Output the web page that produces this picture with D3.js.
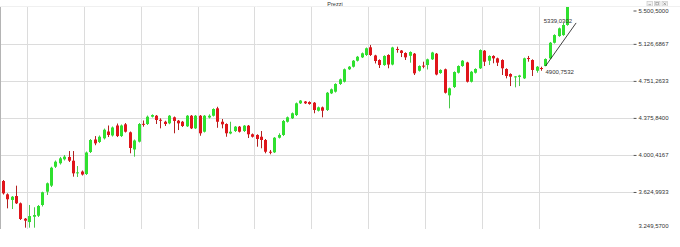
<!DOCTYPE html>
<html>
<head>
<meta charset="utf-8">
<script src="https://cdnjs.cloudflare.com/ajax/libs/d3/7.8.5/d3.min.js"></script>
<style>
  html, body { margin: 0; padding: 0; background: #fff; }
  svg { display: block; font-family: "Liberation Sans", Arial, sans-serif; }
</style>
</head>
<body>
<div id="chart"></div>
<script>
// weekly candles, oldest first
const OPEN = [
  3736,3601,3544,3584,3510,3354,3320,3374,3384,3493,
  3628,3689,3881,3916,3956,3980,3942,3814,3832,3807,
  4030,4157,4132,4169,4238,4198,4299,4192,4311,4230,
  4056,4135,4316,4314,4388,4398,4357,4337,4321,4382,
  4348,4337,4291,4398,4270,4398,4236,4380,4398,4473,
  4337,4314,4218,4243,4287,4243,4297,4210,4203,4185,
  4152,4033,4027,4175,4203,4337,4372,4405,4524,4542,
  4537,4530,4449,4483,4456,4625,4642,4720,4743,4869,
  4895,4956,4990,5014,5092,5009,4963,4912,5014,4917,
  5075,5059,5034,5006,5027,4854,4906,4912,4970,5027,
  4831,4869,4605,4689,4834,4902,4938,4743,4834,4879,
  5057,4956,5004,4980,4963,4872,4821,4791,4791,4777,
  4983,4963,4854,4882,4902,4980,5138,5206,5216,5318
];
const HIGH = [
  3746,3611,3584,3689,3518,3361,3493,3470,3493,3628,
  3721,3881,3944,3980,4000,4040,4040,3888,3843,4035,
  4162,4192,4198,4268,4299,4289,4319,4309,4324,4238,
  4157,4324,4350,4400,4412,4405,4372,4347,4405,4390,
  4355,4345,4405,4405,4405,4405,4405,4412,4473,4489,
  4365,4321,4337,4294,4294,4304,4304,4218,4210,4243,
  4162,4051,4182,4220,4355,4390,4431,4532,4557,4547,
  4544,4537,4491,4491,4639,4674,4727,4775,4877,4902,
  4963,5004,5039,5090,5115,5016,4970,5011,5021,5097,
  5098,5064,5041,5051,5034,4909,4946,4977,5046,5034,
  4869,4876,4683,4848,4909,4963,4945,4852,4879,5071,
  5064,5011,5011,4987,4970,4879,4828,4801,4813,4987,
  5004,4970,4902,4895,4980,5146,5224,5292,5339.0302,5545
];
const LOW = [
  3599,3459,3452,3503,3341,3263,3263,3263,3371,3478,
  3594,3675,3868,3903,3944,3929,3780,3777,3792,3797,
  4020,4099,4121,4157,4182,4187,4182,4182,4228,4017,
  3983,4127,4287,4304,4380,4314,4270,4294,4312,4220,
  4253,4284,4284,4263,4263,4195,4228,4370,4390,4276,
  4270,4185,4210,4233,4228,4233,4172,4177,4084,4068,
  4017,4007,4020,4167,4192,4329,4365,4395,4517,4517,
  4510,4423,4441,4382,4446,4618,4633,4710,4735,4862,
  4887,4948,4983,5004,5004,4928,4882,4904,4879,4909,
  5037,4993,4963,4936,4811,4846,4879,4867,4963,4808,
  4823,4623,4473,4679,4826,4894,4735,4735,4826,4872,
  4902,4912,4930,4902,4811,4777,4699,4686,4699,4770,
  4946,4801,4834,4854,4900.7532,4973,5130,5198,5208,5310
];
const CLOSE = [
  3611,3551,3577,3510,3351,3334,3381,3391,3483,3622,
  3713,3871,3932,3966,3983,3942,3814,3824,3802,4025,
  4152,4118,4185,4256,4203,4279,4192,4299,4236,4071,
  4147,4314,4310,4388,4405,4355,4351,4314,4398,4345,
  4321,4294,4398,4270,4398,4220,4398,4398,4466,4337,
  4311,4220,4236,4287,4236,4297,4210,4185,4162,4152,
  4033,4027,4175,4203,4345,4382,4423,4524,4552,4524,
  4517,4456,4483,4449,4631,4666,4720,4767,4869,4895,
  4956,4996,5031,5082,5014,4953,4912,5004,4917,5090,
  5068,5034,4990,5044,4828,4902,4900,4970,5039,4816,
  4862,4631,4676,4841,4902,4956,4743,4844,4872,5064,
  4946,5004,4980,4936,4879,4801,4794,4797,4806,4980,
  4977,4862,4895,4876,4973,5138,5216,5284,5318,5530
];

const Y_TICKS = [3249.57, 3624.9933, 4000.4167, 4375.84, 4751.2633, 5126.6867, 5500.5];
const QUARTER_STARTS = [6, 19, 32, 45, 58, 71, 84, 97, 110, 123];   // candle index where a new period starts
const TREND_IDX = [124, 131];
const TREND_VAL = [4900.7532, 5339.0302];
const TITLE = 'Prezzi';

(function () {
  const W = 680, H = 247;
  const P = { left: 0.7, right: 633, top: 7, bottom: 229 };
  const SLOTS = 144;   // 130 candles + empty space on the right

  const it = d3.formatLocale({ decimal: ',', thousands: '.', grouping: [3], currency: ['', ''] });
  const fmtAxis = it.format(',.4f');
  const fmtVal = it.format('.4f');

  const candles = OPEN.map((o, i) => ({ i, o, h: HIGH[i], l: LOW[i], c: CLOSE[i] }));

  const svg = d3.select('#chart').append('svg')
    .attr('width', W).attr('height', H);

  const x = d3.scaleLinear().domain([-0.5, SLOTS]).range([P.left, P.right]);
  const y = d3.scaleLinear().domain([Y_TICKS[0], Y_TICKS[Y_TICKS.length - 1]]).range([P.bottom, P.top]);

  // header strip
  svg.append('text')
    .attr('x', 335).attr('y', 6)
    .attr('text-anchor', 'middle')
    .attr('fill', '#333')
    .style('font-size', '5.5px')
    .text(TITLE);

  const btn = svg.append('g').attr('transform', 'translate(647,1.5)');
  [0, 7.5, 15].forEach((dx, k) => {
    const g = btn.append('g').attr('transform', `translate(${dx},0)`);
    g.append('rect').attr('width', 5.5).attr('height', 4.5)
      .attr('fill', '#f2f2f2').attr('stroke', '#c4c4c4').attr('stroke-width', 0.6);
    if (k === 0) g.append('line').attr('x1', 1.5).attr('x2', 4).attr('y1', 3.2).attr('y2', 3.2).attr('stroke', '#777').attr('stroke-width', 0.6);
    if (k === 1) g.append('rect').attr('x', 1.4).attr('y', 1.1).attr('width', 2.7).attr('height', 2.3).attr('fill', 'none').attr('stroke', '#777').attr('stroke-width', 0.5);
    if (k === 2) g.append('path').attr('d', 'M1.5,1 L4,3.5 M4,1 L1.5,3.5').attr('stroke', '#777').attr('stroke-width', 0.6);
  });

  svg.append('line')
    .attr('x1', 0).attr('x2', W).attr('y1', P.top - 0.5).attr('y2', P.top - 0.5)
    .attr('stroke', '#f0f0f0');

  // grid
  const grid = svg.append('g');
  grid.selectAll('.hg')
    .data(Y_TICKS.slice(1, -1))
    .join('line')
    .attr('x1', 0).attr('x2', P.right)
    .attr('y1', d => Math.round(y(d)) + 0.5).attr('y2', d => Math.round(y(d)) + 0.5)
    .attr('stroke', '#dcdcdc');
  grid.selectAll('.vg')
    .data(QUARTER_STARTS)
    .join('line')
    .attr('x1', d => Math.round(x(d - 0.5)) + 0.5).attr('x2', d => Math.round(x(d - 0.5)) + 0.5)
    .attr('y1', P.top).attr('y2', P.bottom)
    .attr('stroke', '#dcdcdc');

  svg.append('line')
    .attr('x1', 0.5).attr('x2', 0.5).attr('y1', P.top).attr('y2', P.bottom)
    .attr('stroke', '#b4b4b4');

  // right price axis
  svg.append('g')
    .attr('transform', `translate(${P.right + 0.5},0)`)
    .call(d3.axisRight(y).tickValues(Y_TICKS).tickSize(3).tickPadding(2).tickFormat(fmtAxis))
    .call(g => g.select('.domain').remove())
    .call(g => g.selectAll('.tick line').attr('stroke', '#555'))
    .call(g => g.selectAll('.tick text')
      .attr('fill', '#333')
      .style('font-size', '6px')
      .style('font-family', '"Liberation Sans", Arial, sans-serif'))
    .call(g => g.selectAll('.tick')
      .filter(d => d === Y_TICKS[Y_TICKS.length - 1])
      .attr('transform', `translate(0,${P.top + 4})`))
    .call(g => {
      const bottom = g.selectAll('.tick').filter(d => d === Y_TICKS[0]);
      bottom.attr('transform', `translate(0,${P.bottom - 3})`);
      bottom.select('line').remove();
    });

  // candles
  svg.append('clipPath').attr('id', 'plot-clip')
    .append('rect').attr('x', 0).attr('y', P.top).attr('width', P.right).attr('height', P.bottom - P.top);

  const UP = '#2fe02f', DOWN = '#e0151b';
  const UP_WICK = '#49c849', DOWN_WICK = '#b32020';

  const cg = svg.append('g').attr('clip-path', 'url(#plot-clip)')
    .selectAll('g')
    .data(candles)
    .join('g');

  cg.append('line')
    .attr('x1', d => Math.round(x(d.i)) + 0.5)
    .attr('x2', d => Math.round(x(d.i)) + 0.5)
    .attr('y1', d => y(d.h))
    .attr('y2', d => y(d.l))
    .attr('stroke', d => d.c >= d.o ? UP_WICK : DOWN_WICK)
    .attr('stroke-width', 1);

  cg.append('rect')
    .attr('x', d => Math.round(x(d.i)) - 1)
    .attr('width', 3)
    .attr('y', d => y(Math.max(d.o, d.c)))
    .attr('height', d => Math.max(1, Math.abs(y(d.o) - y(d.c))))
    .attr('fill', d => d.c >= d.o ? UP : DOWN);

  // trend line with its two prices
  svg.append('line')
    .attr('x1', x(TREND_IDX[0])).attr('y1', y(TREND_VAL[0]))
    .attr('x2', x(TREND_IDX[1])).attr('y2', y(TREND_VAL[1]))
    .attr('stroke', '#111')
    .attr('stroke-width', 0.8);

  svg.append('text')
    .attr('x', x(TREND_IDX[1]) - 4).attr('y', y(TREND_VAL[1]) + 0.5)
    .attr('text-anchor', 'end')
    .attr('fill', '#333')
    .style('font-size', '6px')
    .text(fmtVal(TREND_VAL[1]));

  svg.append('text')
    .attr('x', x(TREND_IDX[0])).attr('y', y(TREND_VAL[0]) + 8)
    .attr('fill', '#333')
    .style('font-size', '6px')
    .text(fmtVal(TREND_VAL[0]));
})();
</script>
</body>
</html>
